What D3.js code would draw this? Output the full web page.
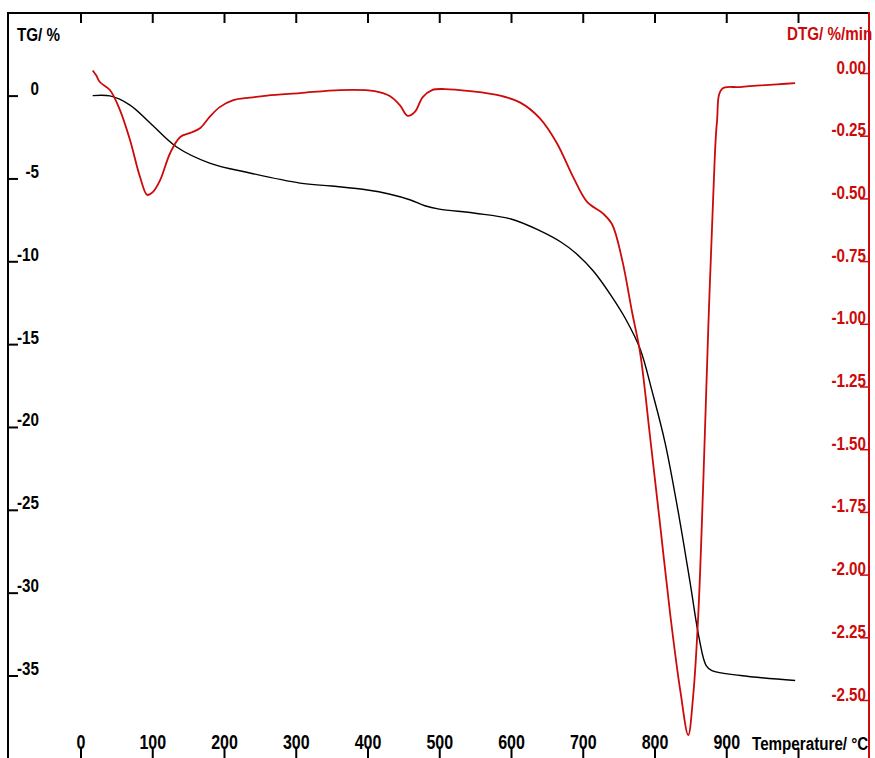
<!DOCTYPE html>
<html>
<head>
<meta charset="utf-8">
<script src="https://cdn.jsdelivr.net/npm/d3@7"></script>
<style>
html,body{margin:0;padding:0;background:#fff;}
svg{display:block;}
text{font-family:"Liberation Sans",Arial,sans-serif;font-weight:bold;}
</style>
</head>
<body>
<svg id="chart" width="875" height="758"></svg>
<script>
// ---- data ----
const tgTemp = [17, 41, 69, 97, 134, 180, 236, 306, 350, 400, 430, 460, 480, 500, 550, 600, 640, 670, 690, 715, 740, 760, 780, 797, 815, 835, 850, 862, 872, 880, 920, 996];
const tgValues = [0, -0.02, -0.57, -1.65, -3.1, -4.07, -4.67, -5.28, -5.46, -5.7, -5.94, -6.3, -6.65, -6.85, -7.1, -7.45, -8.15, -8.85, -9.5, -10.6, -12.1, -13.5, -15.3, -17.9, -21.0, -25.6, -29.5, -32.7, -34.4, -34.7, -35.0, -35.3];

const dtgTemp = [17, 22, 27, 41, 55, 69, 83, 93, 101, 111, 125, 139, 153, 167, 180, 194, 213, 236, 260, 306, 362, 410, 431, 445, 456, 466, 477, 490, 508, 543, 585, 613, 640, 664, 686, 706, 728, 741, 755, 769, 780, 794, 808, 822, 836, 847, 854, 861, 868, 875, 882, 887, 894, 919, 996];
const dtgValues = [0.01, -0.01, -0.036, -0.068, -0.148, -0.267, -0.415, -0.486, -0.474, -0.427, -0.319, -0.255, -0.239, -0.219, -0.175, -0.136, -0.108, -0.098, -0.09, -0.08, -0.068, -0.072, -0.092, -0.128, -0.171, -0.155, -0.096, -0.068, -0.064, -0.072, -0.09, -0.118, -0.18, -0.28, -0.411, -0.514, -0.56, -0.604, -0.746, -0.957, -1.116, -1.455, -1.806, -2.161, -2.464, -2.64, -2.48, -2.161, -1.631, -1.013, -0.48, -0.197, -0.064, -0.056, -0.04];

const xTicks = [0, 100, 200, 300, 400, 500, 600, 700, 800, 900, 1000];
const xLabelTicks = [0, 100, 200, 300, 400, 500, 600, 700, 800, 900];
const tgTicks = [0, -5, -10, -15, -20, -25, -30, -35];
const dtgTicks = [0, -0.25, -0.5, -0.75, -1.0, -1.25, -1.5, -1.75, -2.0, -2.25, -2.5];

const xTitle = "Temperature/ °C";
const tgTitle = "TG/ %";
const dtgTitle = "DTG/ %/min";

(function () {
// ---- layout ----
const pL = 8, pR = 869, pT = 13, pB = 758;
const RED = "#cc0a0a";
const SX = 0.8;
const FS = 19;

const svg = d3.select("#chart");

const x = d3.scaleLinear().domain([0, 1000]).range([80.5, 798]);
const yTG = d3.scaleLinear().domain([0, -35]).range([95.6, 675.5]);
const yDTG = d3.scaleLinear().domain([0, -2.5]).range([73, 700]);

// frame lines
svg.append("line").attr("x1", pL).attr("x2", pR).attr("y1", pT).attr("y2", pT)
  .attr("stroke", "#000").attr("stroke-width", 2);
svg.append("line").attr("x1", pL).attr("x2", pL).attr("y1", pT - 1).attr("y2", pB)
  .attr("stroke", "#000").attr("stroke-width", 2);

// top ticks
const topAxis = svg.append("g").attr("transform", `translate(0,${pT})`)
  .call(d3.axisBottom(x).tickValues(xTicks).tickSize(10).tickFormat(""));
topAxis.select(".domain").remove();
topAxis.selectAll(".tick line").attr("stroke", "#000").attr("stroke-width", 2);

// bottom axis
const botAxis = svg.append("g").attr("transform", `translate(0,${pB})`)
  .call(d3.axisTop(x).tickValues(xTicks).tickSize(10)
    .tickFormat(d => xLabelTicks.includes(d) ? String(d) : ""));
botAxis.select(".domain").remove();
botAxis.selectAll(".tick line").attr("stroke", "#000").attr("stroke-width", 2);
botAxis.selectAll(".tick text")
  .attr("y", null).attr("dy", null)
  .attr("transform", `translate(0,-9) scale(${SX},1)`)
  .attr("fill", "#000").attr("font-size", FS + 1).attr("font-family", null);

// left axis
const leftAxis = svg.append("g").attr("transform", `translate(${pL},0)`)
  .call(d3.axisRight(yTG).tickValues(tgTicks).tickSize(10).tickFormat(d => String(d)));
leftAxis.select(".domain").remove();
leftAxis.selectAll(".tick line").attr("stroke", "#000").attr("stroke-width", 2);
leftAxis.selectAll(".tick text")
  .attr("x", null).attr("dy", null)
  .attr("text-anchor", "end")
  .attr("transform", `translate(31,-1) scale(${SX},1)`)
  .attr("fill", "#000").attr("font-size", FS).attr("font-family", null);

// right axis
svg.append("line").attr("x1", pR).attr("x2", pR).attr("y1", pT - 1).attr("y2", pB)
  .attr("stroke", RED).attr("stroke-width", 2);
const rightAxis = svg.append("g").attr("transform", `translate(${pR},0)`)
  .call(d3.axisLeft(yDTG).tickValues(dtgTicks).tickSize(9).tickFormat(d => d.toFixed(2)));
rightAxis.select(".domain").remove();
rightAxis.selectAll(".tick line").attr("stroke", RED).attr("stroke-width", 1.5);
rightAxis.selectAll(".tick text")
  .attr("x", null).attr("dy", null)
  .attr("text-anchor", "end")
  .attr("transform", `translate(-3,0) scale(${SX},1)`)
  .attr("fill", RED).attr("font-size", FS).attr("font-family", null);

// titles
function label(txt, tx, ty, anchor, color) {
  svg.append("text").attr("transform", `translate(${tx},${ty}) scale(${SX},1)`)
    .attr("text-anchor", anchor).attr("font-size", FS).attr("fill", color).text(txt);
}
label(tgTitle, 17, 41, "start", "#000");
label(dtgTitle, 787, 40, "start", RED);
label(xTitle, 752, 750, "start", "#000");

// curves
const tgData = tgTemp.map((t, i) => [t, tgValues[i]]);
const dtgData = dtgTemp.map((t, i) => [t, dtgValues[i]]);

svg.append("path").datum(tgData)
  .attr("fill", "none").attr("stroke", "#000").attr("stroke-width", 1.4)
  .attr("d", d3.line().x(d => x(d[0])).y(d => yTG(d[1])).curve(d3.curveCatmullRom.alpha(0.5)));

svg.append("path").datum(dtgData)
  .attr("fill", "none").attr("stroke", RED).attr("stroke-width", 1.8)
  .attr("d", d3.line().x(d => x(d[0])).y(d => yDTG(d[1])).curve(d3.curveCatmullRom.alpha(0.5)));
})();
</script>
</body>
</html>
